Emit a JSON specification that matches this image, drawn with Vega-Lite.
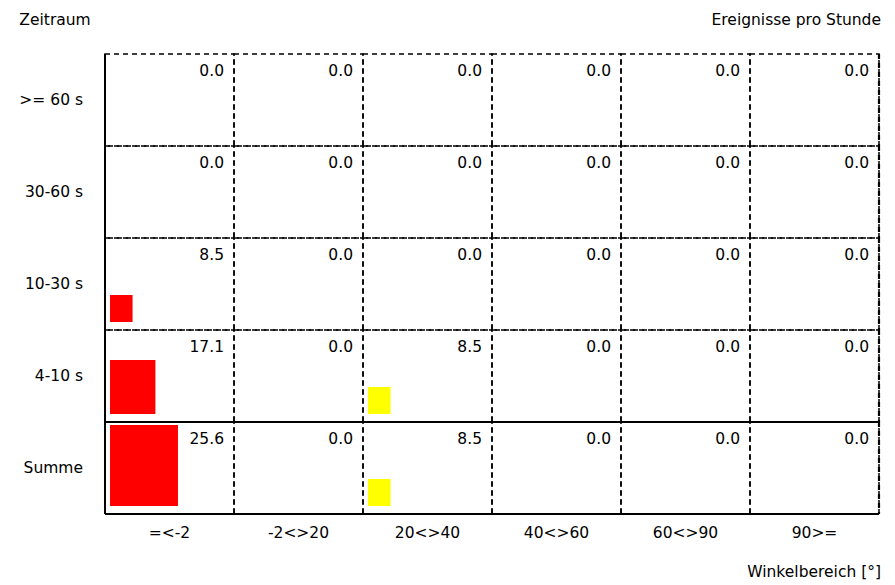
{
  "$schema": "https://vega.github.io/schema/vega-lite/v6.json",
  "padding": {"left": 19, "top": 12, "right": 10, "bottom": 5},
  "background": "white",
  "title": {"text": "Ereignisse pro Stunde", "anchor": "end", "offset": -16, "fontSize": 15.5, "fontWeight": "normal", "font": "DejaVu Sans", "color": "black"},
  "vconcat": [
    {
      "title": {"text": "Zeitraum", "anchor": "start", "fontSize": 15.5, "fontWeight": "normal", "font": "DejaVu Sans", "color": "black", "offset": 24},
      "data": {"values": [
        {"Zeitraum": ">= 60 s", "Winkel": "=<-2", "value": 0.0},
        {"Zeitraum": ">= 60 s", "Winkel": "-2<>20", "value": 0.0},
        {"Zeitraum": ">= 60 s", "Winkel": "20<>40", "value": 0.0},
        {"Zeitraum": ">= 60 s", "Winkel": "40<>60", "value": 0.0},
        {"Zeitraum": ">= 60 s", "Winkel": "60<>90", "value": 0.0},
        {"Zeitraum": ">= 60 s", "Winkel": "90>=", "value": 0.0},
        {"Zeitraum": "30-60 s", "Winkel": "=<-2", "value": 0.0},
        {"Zeitraum": "30-60 s", "Winkel": "-2<>20", "value": 0.0},
        {"Zeitraum": "30-60 s", "Winkel": "20<>40", "value": 0.0},
        {"Zeitraum": "30-60 s", "Winkel": "40<>60", "value": 0.0},
        {"Zeitraum": "30-60 s", "Winkel": "60<>90", "value": 0.0},
        {"Zeitraum": "30-60 s", "Winkel": "90>=", "value": 0.0},
        {"Zeitraum": "10-30 s", "Winkel": "=<-2", "value": 8.5},
        {"Zeitraum": "10-30 s", "Winkel": "-2<>20", "value": 0.0},
        {"Zeitraum": "10-30 s", "Winkel": "20<>40", "value": 0.0},
        {"Zeitraum": "10-30 s", "Winkel": "40<>60", "value": 0.0},
        {"Zeitraum": "10-30 s", "Winkel": "60<>90", "value": 0.0},
        {"Zeitraum": "10-30 s", "Winkel": "90>=", "value": 0.0},
        {"Zeitraum": "4-10 s", "Winkel": "=<-2", "value": 17.1},
        {"Zeitraum": "4-10 s", "Winkel": "-2<>20", "value": 0.0},
        {"Zeitraum": "4-10 s", "Winkel": "20<>40", "value": 8.5},
        {"Zeitraum": "4-10 s", "Winkel": "40<>60", "value": 0.0},
        {"Zeitraum": "4-10 s", "Winkel": "60<>90", "value": 0.0},
        {"Zeitraum": "4-10 s", "Winkel": "90>=", "value": 0.0},
        {"Zeitraum": "Summe", "Winkel": "=<-2", "value": 25.6},
        {"Zeitraum": "Summe", "Winkel": "-2<>20", "value": 0.0},
        {"Zeitraum": "Summe", "Winkel": "20<>40", "value": 8.5},
        {"Zeitraum": "Summe", "Winkel": "40<>60", "value": 0.0},
        {"Zeitraum": "Summe", "Winkel": "60<>90", "value": 0.0},
        {"Zeitraum": "Summe", "Winkel": "90>=", "value": 0.0}
      ]},
      "facet": {
        "row": {
          "field": "Zeitraum", "type": "nominal", "title": null,
          "sort": [">= 60 s", "30-60 s", "10-30 s", "4-10 s", "Summe"],
          "header": {"labelAngle": 0, "labelAlign": "left", "labelPadding": 22, "labelFontSize": 15.5, "labelFont": "DejaVu Sans", "labelColor": "black"}
        },
        "column": {
          "field": "Winkel", "type": "nominal", "title": "Winkelbereich [°]",
          "sort": ["=<-2", "-2<>20", "20<>40", "40<>60", "60<>90", "90>="],
          "header": {"labelOrient": "bottom", "labelPadding": 12, "labelFontSize": 15.5, "labelFont": "DejaVu Sans", "labelColor": "black",
                     "titleOrient": "bottom", "titleAnchor": "end", "titlePadding": 13, "titleFontSize": 15.5, "titleFont": "DejaVu Sans", "titleFontWeight": "normal", "titleColor": "black"}
        }
      },
      "spacing": {"row": 0, "column": 0},
      "bounds": "flush",
      "spec": {
        "width": 129,
        "height": 92,
        "layer": [
          {
            "mark": {"type": "rect"},
            "encoding": {
              "x": {"field": "value", "type": "quantitative",
                    "scale": {"domain": [-1.88, 46.69], "nice": false, "zero": false}, "axis": null},
              "x2": {"datum": 0},
              "y": {"field": "value", "type": "quantitative",
                    "scale": {"domain": [-2.53, 26.55], "nice": false, "zero": false}, "axis": null},
              "y2": {"datum": 0},
              "color": {"field": "Winkel", "type": "nominal", "legend": null,
                        "scale": {"domain": ["=<-2", "-2<>20", "20<>40", "40<>60", "60<>90", "90>="],
                                  "range": ["#ff0000", "#ff8000", "#ffff00", "#00c000", "#00c0ff", "#0000ff"]}}
            }
          },
          {
            "mark": {"type": "text", "align": "right", "baseline": "alphabetic", "dx": -10, "dy": 22, "fontSize": 15.5, "font": "DejaVu Sans", "color": "black"},
            "encoding": {
              "x": {"datum": 46.69, "type": "quantitative"},
              "y": {"datum": 26.55, "type": "quantitative"},
              "text": {"field": "value", "type": "quantitative", "format": ".1f"}
            }
          },
          {
            "transform": [{"filter": "datum.Zeitraum === 'Summe'"}],
            "mark": {"type": "rule", "color": "black", "strokeWidth": 2},
            "encoding": {
              "y": {"datum": 26.55, "type": "quantitative"}
            }
          },
          {
            "transform": [{"filter": "datum.Zeitraum === 'Summe'"}],
            "mark": {"type": "rule", "color": "black", "strokeWidth": 2},
            "encoding": {
              "y": {"datum": -2.53, "type": "quantitative"}
            }
          },
          {
            "transform": [{"filter": "datum.Winkel === '=<-2'"}],
            "mark": {"type": "rule", "color": "black", "strokeWidth": 2},
            "encoding": {
              "x": {"datum": -1.88, "type": "quantitative"}
            }
          },
          {
            "transform": [{"filter": "datum.Winkel === '90>='"}],
            "mark": {"type": "rule", "color": "black", "strokeWidth": 2.2, "strokeDash": [5, 4]},
            "encoding": {
              "x": {"datum": 46.69, "type": "quantitative"}
            }
          }
        ]
      }
    }
  ],
  "config": {
    "font": "DejaVu Sans",
    "view": {"stroke": "black", "strokeDash": [5, 4], "strokeWidth": 1.5}
  }
}
